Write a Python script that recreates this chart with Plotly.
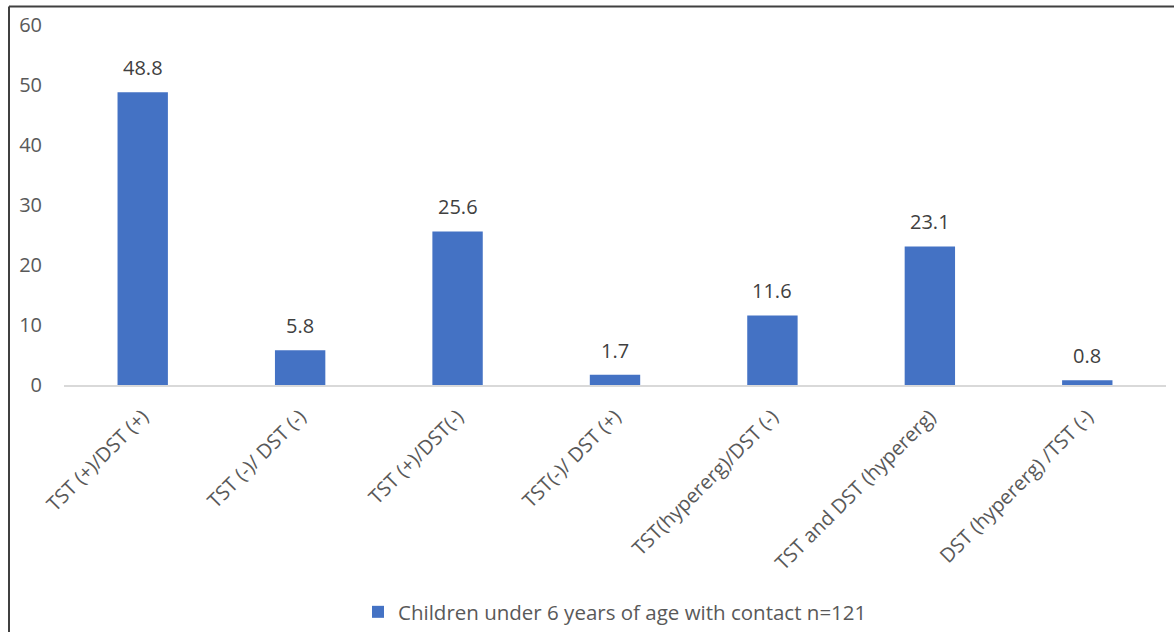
import plotly.graph_objects as go

categories = [
    "TST (+)/DST (+)",
    "TST (-)/ DST (-)",
    "TST (+)/DST(-)",
    "TST(-)/ DST (+)",
    "TST(hypererg)/DST (-)",
    "TST and DST (hypererg)",
    "DST (hypererg) /TST (-)",
]
values = [48.8, 5.8, 25.6, 1.7, 11.6, 23.1, 0.8]
series_name = "Children under 6 years of age with contact n=121"
y_ticks = [0, 10, 20, 30, 40, 50, 60]

W, H = 1174, 632
ml, mr, mt, mb = 64, 8, 25, 247
FONT = "Open Sans, Lato, sans-serif"

fig = go.Figure()
fig.add_trace(go.Bar(
    x=categories, y=values, name=series_name,
    marker=dict(color="#4472C4", line=dict(width=0)),
    showlegend=True,
))
for c, v in zip(categories, values):
    fig.add_annotation(x=c, y=v, text=f"{v:.1f}", showarrow=False, yanchor="bottom",
                       yshift=9, font=dict(family=FONT, size=20, color="#404040"))

pw = W - ml - mr
ph = H - mt - mb
x_left = (9 - ml) / pw
y_top = 1 + (mt - 6.5) / ph
y_bot = -(H - mt - ph) / ph - 0.05
fig.add_shape(type="line", xref="paper", yref="paper", x0=x_left, x1=x_left,
              y0=y_bot, y1=y_top, line=dict(color="#404040", width=2))
fig.add_shape(type="line", xref="paper", yref="paper", x0=x_left, x1=(W - ml) / pw + 0.01,
              y0=y_top, y1=y_top, line=dict(color="#404040", width=2))

fig.update_layout(
    width=W, height=H,
    margin=dict(l=ml, r=mr, t=mt, b=mb, autoexpand=False),
    paper_bgcolor="white", plot_bgcolor="white",
    bargap=0.68,
    font=dict(family=FONT, size=20, color="#595959"),
    xaxis=dict(tickangle=-45, showgrid=False, showline=True, linecolor="#d9d9d9", linewidth=2,
               ticks="", tickfont=dict(size=20, color="#595959"), ticklabelstandoff=10,
               automargin=False),
    yaxis=dict(range=[0, 60], tickvals=y_ticks, showgrid=False, zeroline=False, showline=False,
               ticks="", tickfont=dict(size=20, color="#595959"), ticklabelstandoff=21,
               automargin=False),
    legend=dict(orientation="h", x=0.5, xanchor="center", yref="container",
                y=1 - 612 / H, yanchor="middle",
                font=dict(size=20.5, color="#595959"), itemwidth=30),
)

fig.write_html("out.html")
